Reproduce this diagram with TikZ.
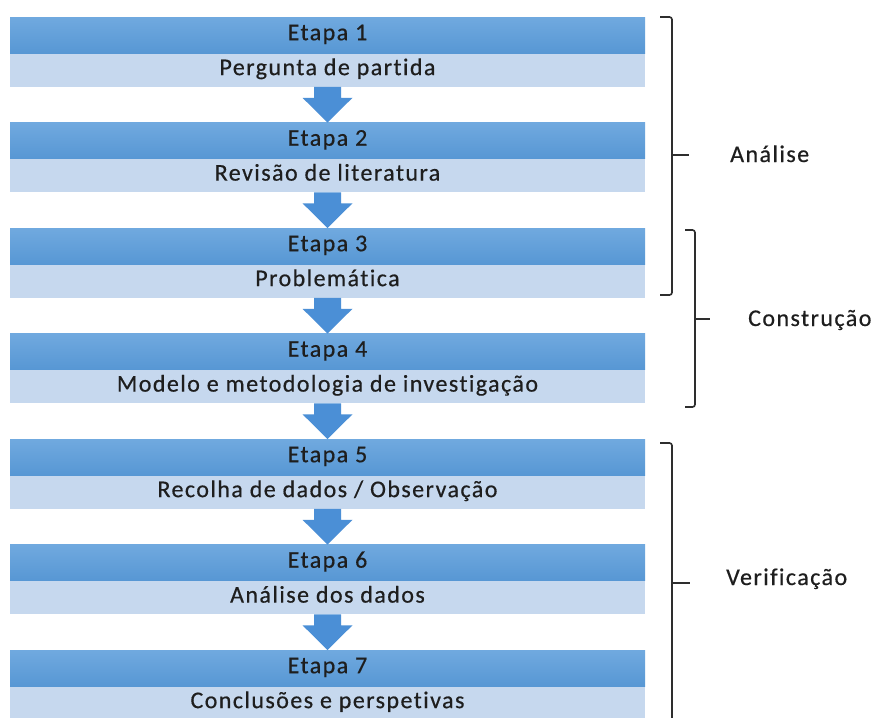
\documentclass[tikz,border=0pt]{standalone}
\usepackage{fontspec}
\setmainfont{Carlito}[LetterSpace=6, Ligatures=NoCommon, FakeBold=0.5]
\usetikzlibrary{calc}
\definecolor{headtop}{HTML}{70A9DF}
\definecolor{headbot}{HTML}{5797D4}
\definecolor{bandc}{HTML}{C6D8EE}
\definecolor{arrowc}{HTML}{4B8FD6}
\definecolor{inkc}{HTML}{1E1E1E}
\definecolor{bracec}{HTML}{2E2E2E}
\begin{document}
\begin{tikzpicture}[x=1pt,y=-1pt,
  txt/.style={text=inkc, font=\fontsize{24}{26}\selectfont, text height=16pt, text depth=6pt, inner sep=0pt},
  header/.style={txt, minimum width=635pt, minimum height=36pt, top color=headtop, bottom color=headbot, anchor=north},
  bandbox/.style={txt, minimum width=635pt, minimum height=33pt, fill=bandc, anchor=north},
  brace/.style={draw=bracec, line width=1.6pt, rounded corners=2.5pt},
  tick/.style={draw=bracec, line width=1.6pt},
  phase/.style={txt, anchor=base west, text depth=0pt}]
\useasboundingbox (0,0) rectangle (871,718);
\fill[white] (0,0) rectangle (871,718);

% stage blocks: header with the stage number, band with its description
\foreach \i/\t in {1/{Pergunta de partida},2/{Revisão de literatura},3/{Problemática},
  4/{Modelo e metodologia de investigação},5/{Recolha de dados / Observação},
  6/{Análise dos dados},7/{Conclusões e perspetivas}}{
  \pgfmathsetmacro\ytop{17+105.5*(\i-1)}
  \node[header] (h\i) at (327.5,\ytop) {Etapa \i};
  \node[bandbox] (b\i) at (h\i.south) {\t};
}

% down arrows between consecutive stages
\foreach \i [evaluate=\i as \j using int(\i+1)] in {1,...,6}{
  \fill[arrowc] ($(b\i.south)+(-13.5,0)$) -- ($(b\i.south)+(13.5,0)$)
    -- ($(b\i.south)+(13.5,11)$) -- ($(b\i.south)+(25,11)$) -- (h\j.north)
    -- ($(b\i.south)+(-25,11)$) -- ($(b\i.south)+(-13.5,11)$) -- cycle;
}

% phase brackets
\coordinate (a1) at (672,155);
\coordinate (c1) at (695,319);
\coordinate (v1) at (672,583);
\path[brace] (660,17) -- (672,17) -- (672,295) -- (660,295);
\path[tick] (a1) -- ++(17,0);
\node[phase] (la) at (730,162) {Análise};

\path[brace] (685,230) -- (695,230) -- (695,407) -- (685,407);
\path[tick] (c1) -- ++(15,0);
\node[phase] (lc) at (748,326) {Construção};

\path[brace] (660,443) -- (672,443) -- (672,740);
\path[tick] (v1) -- ++(18,0);
\node[phase] (lv) at (726,585) {Verificação};
\end{tikzpicture}
\end{document}
